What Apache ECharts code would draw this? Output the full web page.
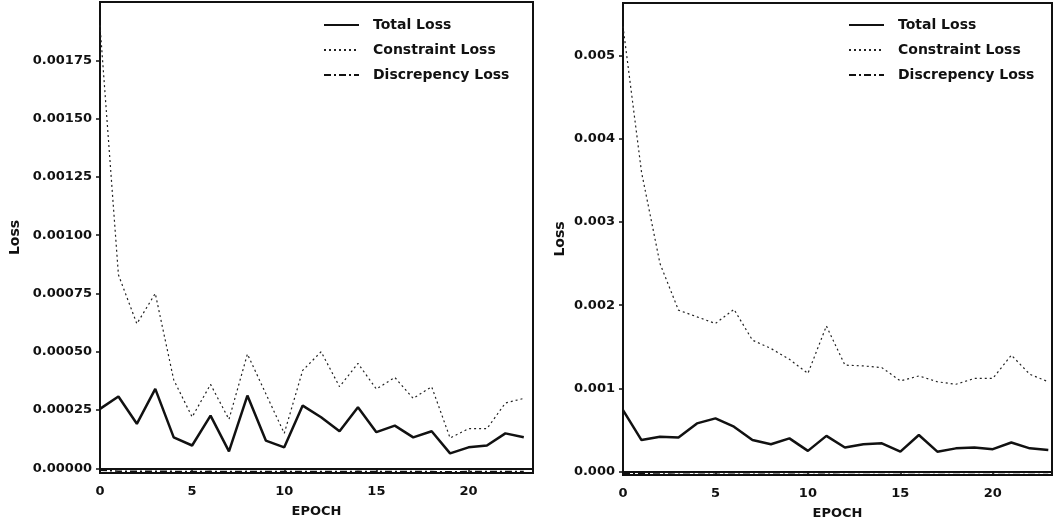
<!DOCTYPE html>
<html>
<head>
<meta charset="utf-8">
<script src="https://cdn.jsdelivr.net/npm/echarts@6/dist/echarts.min.js"></script>
<style>
  html, body { margin: 0; padding: 0; background: #fff; }
  #main { width: 1059px; height: 526px; }
</style>
</head>
<body>
<div id="main"></div>
<script>
// epochs 0..23
const epochs = [0,1,2,3,4,5,6,7,8,9,10,11,12,13,14,15,16,17,18,19,20,21,22,23];
const seriesNames = ['Total Loss', 'Constraint Loss', 'Discrepency Loss'];

// left panel
const leftTotal = [0.000255,0.000308,0.000191,0.000341,0.000133,0.000098,0.000226,0.000073,0.000312,0.000119,
  0.00009,0.000269,0.000219,0.000159,0.000262,0.000155,0.000183,0.000133,0.000159,0.000064,
  0.00009,0.000098,0.00015,0.000133];
const leftConstraint = [0.0019,0.00083,0.00062,0.00075,0.00038,0.00022,0.00036,0.00021,0.00049,0.00032,
  0.00015,0.00042,0.0005,0.00035,0.00045,0.00034,0.00039,0.0003,0.00035,0.00013,
  0.00017,0.00017,0.00028,0.0003];
const leftDiscrepency = [-0.000008,-0.000012,-0.000013,-0.000012,-0.000013,-0.000014,-0.000013,-0.000014,-0.000013,-0.000014,
  -0.000014,-0.000013,-0.000014,-0.000014,-0.000013,-0.000014,-0.000014,-0.000014,-0.000014,-0.000015,
  -0.000014,-0.000014,-0.000014,-0.000014];
const leftTicks = [0, 0.00025, 0.0005, 0.00075, 0.001, 0.00125, 0.0015, 0.00175];

// right panel
const rightTotal = [0.00074,0.00038,0.00042,0.00041,0.00058,0.00064,0.00054,0.00038,0.00033,0.0004,
  0.00025,0.00043,0.00029,0.00033,0.00034,0.00024,0.00044,0.00024,0.00028,0.00029,
  0.00027,0.00035,0.00028,0.00026];
const rightConstraint = [0.00535,0.0036,0.0025,0.00194,0.00186,0.00178,0.00195,0.00158,0.00148,0.00135,
  0.00118,0.00175,0.00128,0.00127,0.00125,0.00109,0.00115,0.00108,0.00105,0.00112,
  0.00112,0.0014,0.00117,0.00108];
const rightDiscrepency = [-0.00002,-0.000025,-0.000028,-0.00003,-0.00003,-0.00003,-0.000032,-0.00003,-0.000032,-0.000032,
  -0.000033,-0.000032,-0.000033,-0.000033,-0.000033,-0.000034,-0.000033,-0.000034,-0.000034,-0.000034,
  -0.000034,-0.000034,-0.000035,-0.000035];
const rightTicks = [0, 0.001, 0.002, 0.003, 0.004, 0.005];

const pair = (ys) => epochs.map((e, i) => [e, ys[i]]);

const font = 'DejaVu Sans';
const ink = '#111';

const chart = echarts.init(document.getElementById('main'));

function xAxis(idx, max) {
  return {
    gridIndex: idx,
    type: 'value',
    min: 0,
    max: max,
    interval: 5,
    name: 'EPOCH',
    nameLocation: 'middle',
    nameGap: 32,
    nameTextStyle: { color: ink, fontFamily: font, fontSize: 13, fontWeight: 'bold' },
    axisLine: { lineStyle: { color: ink, width: 2 } },
    axisTick: { length: 4, lineStyle: { color: ink, width: 1.5 } },
    axisLabel: { color: ink, fontFamily: font, fontSize: 13, fontWeight: 'bold', margin: 12,
      showMaxLabel: false },
    splitLine: { show: false }
  };
}

function yAxis(idx, min, max, ticks, digits, gap) {
  return {
    gridIndex: idx,
    type: 'value',
    min: min,
    max: max,
    name: 'Loss',
    nameLocation: 'middle',
    nameGap: gap,
    nameTextStyle: { color: ink, fontFamily: font, fontSize: 14, fontWeight: 'bold' },
    axisLine: { show: true, lineStyle: { color: ink, width: 2 } },
    axisTick: { show: true, length: 4, customValues: ticks, lineStyle: { color: ink, width: 1.5 } },
    axisLabel: { color: ink, fontFamily: font, fontSize: 13, fontWeight: 'bold', margin: 8,
      customValues: ticks, formatter: (v) => v.toFixed(digits) },
    splitLine: { show: false }
  };
}

function lines(xi, yi, total, constraint, disc) {
  return [
    { name: seriesNames[0], type: 'line', xAxisIndex: xi, yAxisIndex: yi, data: pair(total),
      symbol: 'none', lineStyle: { color: ink, width: 2.5, type: 'solid' }, itemStyle: { color: ink }, z: 4 },
    { name: seriesNames[1], type: 'line', xAxisIndex: xi, yAxisIndex: yi, data: pair(constraint),
      symbol: 'none', lineStyle: { color: '#222', width: 1.2, type: [2, 3] }, itemStyle: { color: '#222' }, z: 3 },
    { name: seriesNames[2], type: 'line', xAxisIndex: xi, yAxisIndex: yi, data: pair(disc),
      symbol: 'none', lineStyle: { color: ink, width: 1.5, type: [7, 3, 2, 3] }, itemStyle: { color: ink }, z: 3 }
  ];
}

function legend(left) {
  return {
    left: left,
    top: 18,
    padding: 0,
    orient: 'vertical',
    itemWidth: 35,
    itemHeight: 14,
    itemGap: 11,
    data: seriesNames,
    itemStyle: { opacity: 0 },
    textStyle: { color: ink, fontFamily: font, fontSize: 14, fontWeight: 'bold', padding: [0, 0, 0, 9] }
  };
}

chart.setOption({
  backgroundColor: '#fff',
  animation: false,
  grid: [
    { left: 100, top: 2, width: 433, height: 471, show: true, borderColor: ink, borderWidth: 2, backgroundColor: 'transparent' },
    { left: 623, top: 3, width: 429, height: 472, show: true, borderColor: ink, borderWidth: 2, backgroundColor: 'transparent' }
  ],
  legend: [legend(323), legend(848)],
  xAxis: [xAxis(0, 23.5), xAxis(1, 23.2)],
  yAxis: [
    yAxis(0, -0.00002, 0.002, leftTicks, 5, 78),
    yAxis(1, -0.00004, 0.00563, rightTicks, 3, 56)
  ],
  series: [].concat(
    lines(0, 0, leftTotal, leftConstraint, leftDiscrepency),
    lines(1, 1, rightTotal, rightConstraint, rightDiscrepency)
  )
});
</script>
</body>
</html>
